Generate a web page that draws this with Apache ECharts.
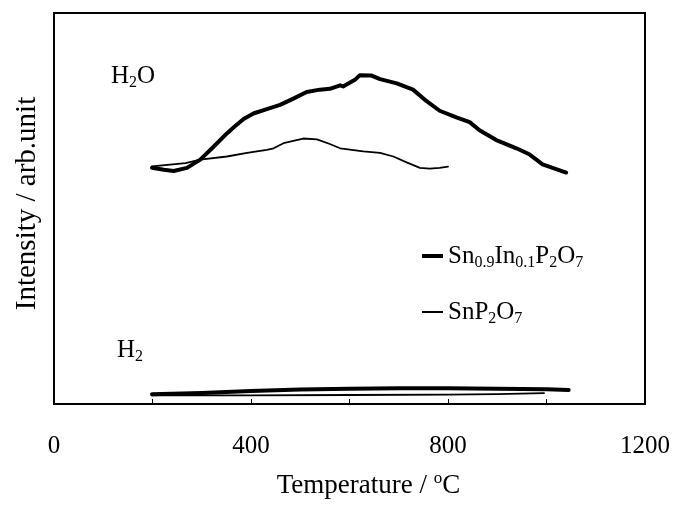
<!DOCTYPE html>
<html>
<head>
<meta charset="utf-8">
<script src="https://cdn.jsdelivr.net/npm/echarts@6/dist/echarts.min.js"></script>
<style>
  html, body { margin: 0; padding: 0; background: #fff; }
  #chart { width: 673px; height: 507px; }
</style>
</head>
<body>
<div id="chart"></div>
<script>
// Temperature-programmed desorption traces (H2O and H2) for two pyrophosphates
var xTicks = [0, 400, 800, 1200];

// Sn0.9In0.1P2O7, H2O signal
var inH2OTemp = [199, 223, 243, 270, 297, 324, 351, 365, 385, 405, 432, 459, 486, 513, 540, 560, 581, 587, 611, 621, 645, 662, 696, 729, 756, 783, 817, 844, 864, 898, 939, 966, 992, 1040];
var inH2OVal  = [60.4, 59.9, 59.6, 60.4, 62.5, 65.8, 69.2, 70.8, 72.9, 74.3, 75.4, 76.5, 78.1, 79.8, 80.4, 80.6, 81.5, 81.2, 82.9, 84.1, 84.0, 83.1, 82.0, 80.4, 77.5, 75.0, 73.3, 72.1, 70.0, 67.5, 65.4, 63.8, 61.3, 59.2];

// SnP2O7, H2O signal
var snH2OTemp = [199, 236, 267, 297, 351, 392, 432, 446, 466, 506, 534, 560, 581, 628, 662, 689, 716, 743, 763, 783, 800];
var snH2OVal  = [60.8, 61.2, 61.6, 62.5, 63.3, 64.2, 65.0, 65.4, 66.7, 67.9, 67.7, 66.5, 65.4, 64.6, 64.2, 63.3, 61.8, 60.4, 60.2, 60.4, 60.7];

// Sn0.9In0.1P2O7, H2 signal
var inH2Temp = [199, 300, 400, 500, 600, 700, 800, 900, 1000, 1045];
var inH2Val  = [2.5, 2.8, 3.3, 3.7, 3.9, 4.0, 4.0, 3.9, 3.8, 3.6];

// SnP2O7, H2 signal
var snH2Temp = [199, 400, 600, 800, 900, 995];
var snH2Val  = [2.2, 2.2, 2.3, 2.4, 2.5, 2.8];

var seriesNames = ['Sn0.9In0.1P2O7', 'SnP2O7'];
var legendLabels = {
  'Sn0.9In0.1P2O7': 'Sn{s|0.9}In{s|0.1}P{s|2}O{s|7}',
  'SnP2O7': 'SnP{s|2}O{s|7}'
};

function pairs(xs, ys) {
  return xs.map(function (x, i) { return [x, ys[i]]; });
}

var FONT = '"Liberation Serif", "DejaVu Serif", serif';
var subStyle = { fontFamily: FONT, fontSize: 16, lineHeight: 16, verticalAlign: 'bottom', color: '#000' };
var supStyle = { fontFamily: FONT, fontSize: 17, lineHeight: 17, verticalAlign: 'top', color: '#000' };

var chart = echarts.init(document.getElementById('chart'), null, { renderer: 'canvas' });

function lineSeries(name, xs, ys, width) {
  return {
    name: name,
    type: 'line',
    data: pairs(xs, ys),
    showSymbol: false,
    symbol: 'none',
    lineStyle: { color: '#000', width: width, join: 'round', cap: 'round' },
    itemStyle: { color: '#000' },
    z: 3
  };
}

function legendFor(name, top, thickness) {
  return {
    data: [name],
    left: 422,
    top: top,
    orient: 'vertical',
    icon: 'rect',
    itemWidth: 21,
    itemHeight: thickness,
    selectedMode: false,
    padding: 0,
    formatter: function (n) { return legendLabels[n]; },
    textStyle: {
      fontFamily: FONT, fontSize: 25, lineHeight: 30, color: '#000',
      rich: { s: subStyle }
    }
  };
}

chart.setOption({
  animation: false,
  backgroundColor: '#fff',
  grid: {
    left: 54, right: 28, top: 13, bottom: 93,
    show: true, borderColor: '#000', borderWidth: 2, backgroundColor: 'transparent'
  },
  xAxis: {
    type: 'value',
    min: xTicks[0],
    max: xTicks[xTicks.length - 1],
    interval: 200,
    name: 'Temperature / {sup|o}C',
    nameLocation: 'middle',
    nameGap: 66,
    nameTextStyle: {
      fontFamily: FONT, fontSize: 27, lineHeight: 32, color: '#000',
      padding: [0, 0, 0, 38],
      rich: { sup: supStyle }
    },
    axisLine: { show: false },
    axisTick: { show: true, inside: true, length: 5, lineStyle: { color: '#000', width: 1 } },
    splitLine: { show: false },
    axisLabel: {
      margin: 30,
      fontFamily: FONT, fontSize: 25, color: '#000',
      formatter: function (v) { return xTicks.indexOf(v) >= 0 ? String(v) : ''; }
    }
  },
  yAxis: {
    type: 'value',
    min: 0,
    max: 100,
    name: 'Intensity / arb.unit',
    nameLocation: 'middle',
    nameGap: 12,
    nameTextStyle: { fontFamily: FONT, fontSize: 29, color: '#000', padding: [0, 0, 0, 10] },
    axisLine: { show: false },
    axisTick: { show: false },
    axisLabel: { show: false },
    splitLine: { show: false }
  },
  legend: [
    legendFor(seriesNames[0], 241, 4),
    legendFor(seriesNames[1], 297, 2)
  ],
  graphic: [
    {
      type: 'text', left: 111, top: 61,
      style: { text: 'H{s|2}O', fontFamily: FONT, fontSize: 25, lineHeight: 30, fill: '#000', rich: { s: subStyle } }
    },
    {
      type: 'text', left: 117, top: 335,
      style: { text: 'H{s|2}', fontFamily: FONT, fontSize: 25, lineHeight: 30, fill: '#000', rich: { s: subStyle } }
    }
  ],
  series: [
    lineSeries(seriesNames[0], inH2OTemp, inH2OVal, 4),
    lineSeries(seriesNames[1], snH2OTemp, snH2OVal, 1.8),
    lineSeries(seriesNames[0], inH2Temp, inH2Val, 4),
    lineSeries(seriesNames[1], snH2Temp, snH2Val, 1.8)
  ]
});
</script>
</body>
</html>
